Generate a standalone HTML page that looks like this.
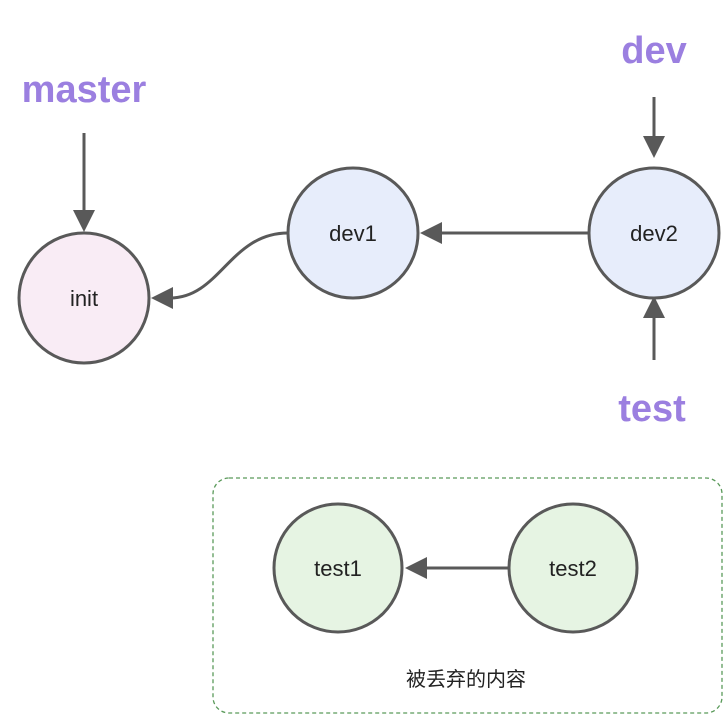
<!DOCTYPE html>
<html><head><meta charset="utf-8"><style>body{margin:0;background:#fff}</style></head><body>
<svg width="727" height="719" viewBox="0 0 727 719" xmlns="http://www.w3.org/2000/svg" font-family="Liberation Sans, Noto Sans CJK SC, sans-serif">
<defs><marker id="a" markerWidth="10" markerHeight="10" refX="8" refY="5" orient="auto" markerUnits="userSpaceOnUse" viewBox="0 0 10 10"><path d="M0,0 L10,5 L0,10 z" fill="#595959"/></marker></defs>
<g stroke="#595959" stroke-width="3" fill="none">
<line x1="84" y1="133" x2="84" y2="212"/>
<path d="M73,210 L84,232 L95,210 z" fill="#595959" stroke="none"/>
<line x1="654" y1="97" x2="654" y2="138"/>
<path d="M643,136 L654,158 L665,136 z" fill="#595959" stroke="none"/>
<line x1="654" y1="360" x2="654" y2="316"/>
<path d="M643,318 L654,296 L665,318 z" fill="#595959" stroke="none"/>
<line x1="589" y1="233" x2="440" y2="233"/>
<path d="M442,222 L420,233 L442,244 z" fill="#595959" stroke="none"/>
<path d="M288,233 C230,233 220,298 170,298"/>
<path d="M173,287 L151,298 L173,309 z" fill="#595959" stroke="none"/>
<line x1="509" y1="568" x2="425" y2="568"/>
<path d="M427,557 L405,568 L427,579 z" fill="#595959" stroke="none"/>
</g>
<rect x="213" y="478" width="509" height="235" rx="16" fill="none" stroke="#5a9a5a" stroke-width="1.3" stroke-dasharray="4,3"/>
<g stroke="#595959" stroke-width="3">
<circle cx="84" cy="298" r="65" fill="#f9ecf5"/>
<circle cx="353" cy="233" r="65" fill="#e7edfb"/>
<circle cx="654" cy="233" r="65" fill="#e7edfb"/>
<circle cx="338" cy="568" r="64" fill="#e6f4e3"/>
<circle cx="573" cy="568" r="64" fill="#e6f4e3"/>
</g>
<g font-size="22" fill="#222" text-anchor="middle">
<text x="84" y="306">init</text>
<text x="353" y="241">dev1</text>
<text x="654" y="241">dev2</text>
<text x="338" y="576">test1</text>
<text x="573" y="576">test2</text>
<text x="466" y="686" font-size="20">被丢弃的内容</text>
</g>
<g font-size="38" font-weight="bold" fill="#9b7fe0" text-anchor="middle">
<text x="84" y="102">master</text>
<text x="654" y="63">dev</text>
<text x="652" y="421">test</text>
</g>
</svg>
</body></html>
